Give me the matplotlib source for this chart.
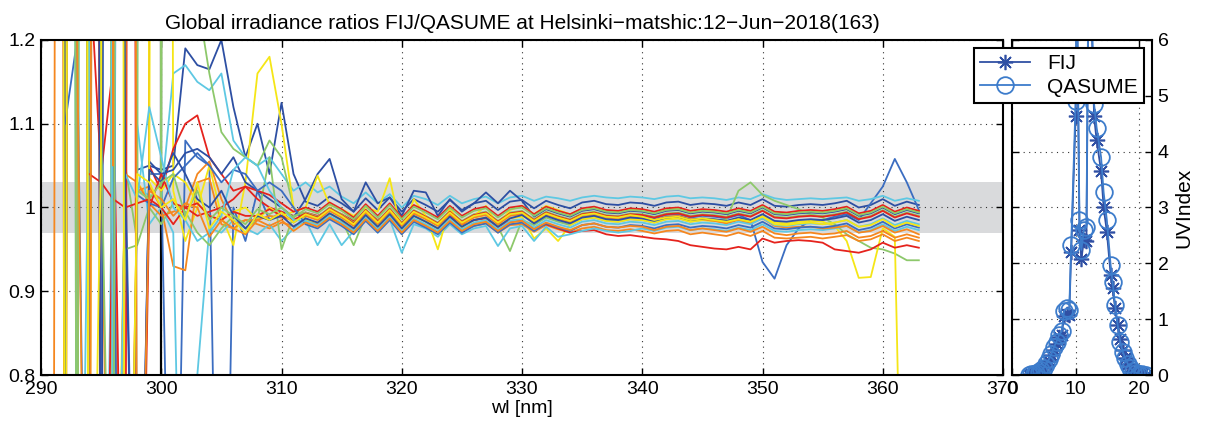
import numpy as np
import matplotlib
matplotlib.use('Agg')
import matplotlib.pyplot as plt

nan = np.nan
wl = np.arange(290, 364)   # nm, 1 nm steps 290..363

# FIJ/QASUME ratios x1000, one list per scan (290..363 nm)
ratio_db1 = [nan, nan, 150, 8500, 400, 7600, 200, 6000, 1045, 1050,
             1045, 1050, 1190, 1170, 1165, 1200, 1120, 1060, 1100, 1040,
             1125, 1040, 1007, 1002, 1013, 1005, 995, 1011, 997, 1012,
             995, 1010, 1003, 995, 1009, 997, 1005, 1008, 997, 1007,
             1009, 999, 1008, 1003, 999, 1006, 1008, 1004, 1003, 1006,
             1005, 1002, 1006, 1007, 1003, 1005, 1004, 1002, 1006, 1003,
             1010, 1002, 1001, 1003, 1004, 1003, 1005, 1008, 1000, 1003,
             1010, 1002, 1007, 1003]
ratio_bl1 = [nan, nan, nan, 300, 9000, 100, 8000, 1070, 300, 1040,
             1040, 300, 1080, 1060, 1050, 200, 1000, 960, 1020, 985,
             995, 982, 992, 987, 998, 990, 980, 996, 982, 997,
             980, 995, 988, 980, 994, 982, 990, 993, 982, 992,
             994, 984, 993, 988, 984, 991, 993, 989, 988, 991,
             990, 987, 991, 992, 988, 990, 989, 987, 991, 985,
             935, 915, 955, 975, 985, 985, 989, 992, 985, 1005,
             1025, 1058, 1030, 997]
ratio_cy1 = [nan, nan, 8000, 300, 7000, 100, 1140, 9000, 1020, 1015,
             1010, 1160, 1170, 1150, 1140, 1160, 1080, 1060, 1050, 1060,
             1040, 1020, 1030, 1018, 1025, 1013, 1005, 1018, 1005, 1016,
             1000, 1014, 1010, 1003, 1014, 1005, 1010, 1013, 1005, 1012,
             1014, 1008, 1013, 1011, 1008, 1012, 1014, 1012, 1011, 1013,
             1012, 1010, 1013, 1014, 1011, 1012, 1011, 1009, 1012, 1010,
             1016, 1011, 1009, 1010, 1011, 1010, 1011, 1012, 1008, 1010,
             1014, 1008, 1011, 1008]
ratio_gr1 = [nan, nan, nan, 9000, 300, 8000, 100, 1050, 960, 7000,
             1000, 8000, 1300, 1250, 1160, 1090, 1070, 1060, 1050, 1080,
             1060, 1000, 987, 980, 993, 985, 955, 990, 977, 992,
             975, 990, 983, 975, 989, 977, 985, 988, 977, 948,
             985, 979, 988, 983, 979, 986, 988, 984, 983, 986,
             985, 982, 986, 987, 983, 985, 984, 986, 1020, 1030,
             1015, 1008, 1003, 998, 992, 988, 980, 968, 960, 952,
             950, 945, 937, 937]
ratio_ye1 = [nan, nan, 8000, 6000, 200, 7000, 1120, 100, 1030, 1010,
             6000, 1020, 960, 1000, 1050, 990, 955, 1030, 1160, 1180,
             1100, 1000, 985, 982, 993, 985, 975, 991, 977, 992,
             975, 990, 983, 975, 989, 977, 985, 988, 977, 987,
             989, 963, 975, 960, 979, 986, 988, 984, 983, 986,
             985, 982, 986, 987, 983, 985, 984, 982, 986, 983,
             990, 982, 981, 983, 984, 983, 978, 960, 916, 917,
             975, 965, 300, 200]
ratio_or1 = [nan, 7000, 400, 8000, 100, 6000, 1065, 200, 1020, 1025,
             1000, 930, 925, 1030, 1035, 980, 975, 985, 980, 975,
             982, 978, 983, 980, 987, 982, 972, 986, 973, 986,
             971, 985, 978, 970, 983, 972, 978, 981, 970, 979,
             980, 971, 979, 974, 970, 975, 977, 973, 972, 974,
             972, 969, 972, 973, 968, 970, 968, 966, 970, 966,
             972, 964, 963, 964, 965, 963, 965, 967, 960, 962,
             968, 960, 964, 960]
ratio_rd1 = [nan, 8500, 100, 7000, 1300, 1040, 1170, 300, 8000, 1050,
             1020, 1070, 1100, 1110, 1060, 1040, 1020, 1025, 1010, 1000,
             995, 990, 994, 990, 997, 992, 984, 996, 985, 995,
             982, 993, 987, 980, 990, 980, 985, 987, 977, 984,
             985, 975, 980, 975, 970, 972, 973, 968, 966, 967,
             965, 963, 962, 960, 955, 953, 951, 950, 953, 950,
             963, 958, 960, 961, 960, 958, 950, 948, 946, 950,
             958, 952, 955, 952]
ratio_db2 = [nan, 9000, 700, 6500, 300, 7500, 100, 9000, 200, 1055,
             1040, 1045, 1065, 1070, 1060, 1040, 1060, 1030, 1020, 1010,
             1000, 988, 1010, 1040, 1058, 1010, 995, 1030, 1005, 1012,
             990, 1020, 1018, 990, 1010, 995, 1005, 1018, 1005, 1020,
             1008, 989, 998, 993, 989, 996, 998, 994, 993, 996,
             995, 992, 996, 997, 993, 995, 994, 992, 996, 993,
             1000, 992, 991, 993, 994, 993, 995, 998, 990, 993,
             1000, 992, 997, 993]
ratio_cy2 = [nan, nan, 7500, 8500, 600, 6500, 100, 7000, 1100, 980,
             1000, 970, 300, 800, 975, 970, 985, 975, 968, 980,
             960, 975, 985, 955, 980, 955, 972, 988, 970, 986,
             946, 980, 975, 965, 980, 968, 975, 978, 954, 975,
             978, 960, 977, 965, 968, 972, 975, 972, 970, 972,
             975, 972, 976, 977, 973, 975, 974, 972, 976, 973,
             980, 972, 971, 973, 974, 973, 975, 978, 970, 973,
             980, 972, 977, 973]
ratio_gr2 = [nan, nan, 9500, 600, 8000, 6000, 200, 950, 955, 1000,
             980, 1005, 995, 970, 955, 975, 990, 975, 985, 1060,
             950, 990, 994, 989, 1000, 992, 982, 998, 984, 999,
             982, 997, 990, 982, 996, 984, 992, 995, 984, 994,
             996, 986, 995, 990, 986, 993, 995, 991, 990, 993,
             992, 989, 993, 994, 990, 992, 991, 989, 993, 990,
             997, 989, 988, 990, 991, 990, 992, 995, 987, 990,
             997, 989, 994, 990]
ratio_ye2 = [nan, nan, 400, 9000, 100, 8000, 300, 1040, 8000, 1035,
             1020, 1040, 1030, 1005, 990, 985, 995, 1000, 985, 1000,
             990, 995, 1000, 1038, 1003, 998, 990, 1000, 995, 1035,
             968, 1010, 990, 950, 1000, 975, 990, 1002, 978, 997,
             1002, 992, 1002, 997, 992, 998, 1000, 996, 995, 998,
             997, 994, 998, 999, 995, 997, 996, 994, 998, 995,
             1002, 994, 993, 995, 996, 995, 997, 1000, 992, 995,
             1002, 994, 999, 995]
ratio_or2 = [nan, 7000, 8000, 500, 9000, 1062, 200, 1040, 1030, 1005,
             990, 995, 1000, 1040, 1055, 1010, 980, 985, 985, 990,
             988, 985, 990, 985, 996, 988, 978, 994, 980, 995,
             978, 993, 986, 978, 992, 980, 988, 991, 980, 990,
             992, 982, 991, 986, 982, 989, 991, 987, 986, 989,
             988, 985, 989, 990, 986, 986, 984, 981, 985, 981,
             987, 978, 976, 977, 977, 975, 976, 978, 970, 972,
             978, 970, 974, 968]
ratio_rd2 = [nan, nan, nan, 8000, 7000, 100, 1060, 7000, 200, 1000,
             1040, 1005, 1000, 990, 995, 1000, 1010, 1025, 1020, 1015,
             1005, 995, 1000, 995, 1006, 998, 988, 1004, 990, 1005,
             988, 1003, 996, 988, 1002, 990, 998, 1001, 990, 1000,
             1002, 992, 1001, 996, 992, 999, 1001, 997, 996, 999,
             998, 995, 999, 1000, 996, 998, 997, 995, 999, 996,
             1003, 995, 994, 996, 997, 996, 998, 1001, 993, 996,
             1003, 995, 1000, 996]
ratio_bl2 = [nan, nan, 1100, 1200, 200, 9000, 1020, 100, 1015, 1005,
             1000, 1035, 1050, 1065, 1050, 1030, 1045, 1040, 1020, 1030,
             1020, 1000, 980, 975, 986, 978, 968, 984, 970, 985,
             968, 983, 976, 968, 982, 970, 978, 981, 970, 980,
             982, 972, 981, 976, 972, 979, 981, 977, 976, 979,
             978, 975, 979, 980, 976, 978, 977, 975, 979, 976,
             983, 975, 974, 976, 977, 976, 978, 981, 973, 976,
             983, 975, 980, 976]
ratio_rd3 = [nan, nan, nan, nan, 1040, 1030, 1010, 1000, 1005, 1010,
             1000, 980, 1000, 1005, 990, 985, 995, 990, 990, 998,
             990, 985, 993, 988, 999, 991, 981, 997, 983, 998,
             981, 996, 989, 981, 995, 983, 991, 994, 983, 993,
             995, 985, 994, 989, 985, 992, 994, 990, 989, 992,
             991, 988, 992, 993, 989, 991, 990, 988, 992, 989,
             996, 988, 987, 989, 990, 989, 991, 994, 986, 989,
             996, 988, 993, 989]
ratio_cy3 = [nan, 1200, 8000, 100, 1150, 9000, 200, 1040, 1010, 1120,
             1060, 1000, 985, 960, 970, 990, 1045, 1060, 1050, 1020,
             1000, 985, 984, 979, 990, 982, 972, 988, 974, 989,
             972, 987, 980, 972, 986, 974, 982, 985, 974, 984,
             986, 976, 985, 980, 976, 983, 985, 981, 980, 983,
             982, 979, 983, 984, 980, 982, 981, 979, 983, 980,
             987, 979, 978, 980, 981, 980, 982, 985, 977, 980,
             987, 979, 984, 980]
ratio_ye3 = [nan, 9000, 100, 7000, 200, 1080, 8000, 100, 1040, 1030,
             1000, 1010, 985, 1030, 975, 995, 985, 970, 992, 985,
             994, 982, 992, 987, 998, 990, 980, 996, 982, 997,
             980, 995, 988, 980, 994, 982, 990, 993, 982, 992,
             994, 984, 993, 988, 984, 991, 993, 989, 988, 991,
             989, 985, 988, 989, 985, 987, 985, 983, 986, 983,
             989, 980, 979, 981, 982, 980, 982, 985, 977, 979,
             986, 977, 982, 978]
ratio_gr3 = [nan, nan, 7000, 200, 9000, 1100, 300, 8000, 1020, 1010,
             1030, 1040, 990, 1020, 985, 1000, 990, 980, 998, 992,
             1000, 988, 998, 993, 1004, 996, 986, 1002, 988, 1003,
             986, 1001, 994, 986, 1000, 988, 996, 999, 988, 998,
             1000, 990, 999, 994, 990, 997, 999, 995, 994, 997,
             996, 993, 997, 998, 994, 996, 995, 993, 997, 994,
             1001, 993, 992, 994, 995, 994, 996, 999, 991, 994,
             1001, 993, 998, 994]
ratio_or3 = [nan, 100, 8000, 1200, 100, 7500, 1050, 9000, 300, 1020,
             1010, 990, 1005, 1000, 965, 985, 975, 968, 985, 978,
             985, 972, 982, 977, 988, 980, 970, 986, 972, 987,
             970, 985, 978, 970, 984, 972, 980, 983, 972, 982,
             984, 974, 982, 977, 973, 979, 981, 977, 976, 978,
             977, 973, 977, 978, 973, 975, 973, 971, 975, 971,
             977, 969, 967, 969, 970, 968, 969, 972, 964, 966,
             972, 964, 968, 964]
ratio_db3 = [nan, nan, 100, 9000, 7000, 200, 8000, 1030, 300, 1045,
             1030, 1065, 1040, 1010, 1000, 1020, 990, 975, 990, 985,
             990, 977, 987, 982, 993, 985, 975, 991, 977, 992,
             975, 990, 983, 975, 989, 977, 985, 988, 977, 987,
             991, 981, 990, 985, 981, 988, 990, 986, 985, 988,
             987, 984, 988, 989, 985, 987, 986, 984, 988, 985,
             992, 984, 983, 985, 986, 985, 987, 990, 982, 985,
             992, 984, 989, 985]

# UV index vs hour
uv_hour = [2.6, 3.0, 3.4, 3.8, 4.2, 4.6, 5.0, 5.4, 5.8, 6.2,
           6.6, 7.0, 7.4, 7.8, 8.2, 8.6, 9.0, 9.3, 10.0, 10.2,
           10.6, 10.9, 11.3, 11.7, 12.0, 12.5, 12.9, 13.3, 14.0, 14.4,
           14.9, 15.5, 15.8, 16.2, 16.6, 17.0, 17.4, 17.8, 18.2, 18.6,
           19.0, 19.5, 20.0, 20.5, 21.0]
uv_fij = [0.0, 0.01, 0.02, 0.03, 0.05, 0.08, 0.12, 0.18, 0.25, 0.35,
          0.45, 0.55, 0.68, 0.72, 1.05, 1.1, 1.08, 2.2, 4.63, 6.9,
          2.6, 2.07, 2.42, 2.4, 6.8, 6.4, 4.63, 4.2, 3.65, 3.0,
          2.57, 1.8, 1.55, 1.2, 0.9, 0.65, 0.45, 0.3, 0.2, 0.12,
          0.07, 0.04, 0.02, 0.01, 0.0]
uv_qasume = [0.0, 0.01, 0.02, 0.03, 0.05, 0.09, 0.13, 0.2, 0.28, 0.38,
             0.5, 0.6, 0.72, 0.78, 1.15, 1.2, 1.17, 2.33, 4.9, 7.2,
             2.78, 2.24, 2.6, 2.65, 7.1, 6.7, 4.85, 4.43, 3.9, 3.27,
             2.78, 1.97, 1.67, 1.26, 0.9, 0.6, 0.42, 0.3, 0.2, 0.12,
             0.07, 0.04, 0.02, 0.01, 0.0]

db = '#2d4fa3'
bl = '#3b6dc1'
cy = '#5ec8e3'
gr = '#8dc86b'
ye = '#f5e616'
orng = '#f5871f'
rd = '#e5231d'

series = [(ratio_db1, db), (ratio_bl1, bl), (ratio_cy1, cy), (ratio_gr1, gr),
          (ratio_ye1, ye), (ratio_or1, orng), (ratio_rd1, rd), (ratio_db2, db),
          (ratio_cy2, cy), (ratio_gr2, gr), (ratio_ye2, ye), (ratio_or2, orng),
          (ratio_rd2, rd), (ratio_bl2, bl), (ratio_rd3, rd), (ratio_cy3, cy),
          (ratio_db3, db), (ratio_gr3, gr), (ratio_or3, orng), (ratio_ye3, ye)]

plt.rcParams['font.family'] = ['Liberation Sans', 'DejaVu Sans']
plt.rcParams['font.size'] = 14

fig = plt.figure(figsize=(12.13, 4.34), dpi=100)
ax = fig.add_axes([0.0338, 0.1359, 0.7931, 0.772])
ax2 = fig.add_axes([0.8343, 0.1359, 0.1154, 0.772])

gridstyle = dict(linestyle=(0, (1, 4)), color='#333333', linewidth=0.8)

# left: spectral ratios
ax.axhspan(0.97, 1.03, color='#d9dadc', lw=0, zorder=0)
ax.axvline(300, color='k', lw=1.6, zorder=1)
for vals, c in series:
    ax.plot(wl, np.array(vals) / 1000.0, color=c, lw=1.3)
ax.set_xlim(290, 370)
ax.set_ylim(0.8, 1.2)
ax.set_xticks(range(290, 371, 10))
ax.set_yticks([0.8, 0.9, 1.0, 1.1, 1.2])
ax.set_yticklabels(['0.8', '0.9', '1', '1.1', '1.2'])
ax.set_axisbelow(True)
ax.grid(True, **gridstyle)
ax.tick_params(direction='in', top=True, right=True, length=5, width=1, pad=4)
for s in ax.spines.values():
    s.set_linewidth(1.5)
ax.set_xlabel('wl [nm]', labelpad=2)
ax.set_title('Global irradiance ratios FIJ/QASUME at Helsinki\u2212matshic:12\u2212Jun\u22122018(163)',
             fontsize=15, pad=8)

# right: UV index
ax2.plot(uv_hour, uv_fij, marker=(8, 2, 0), color='#3050a4', ms=11, mew=1.2, lw=1.3, label='FIJ')
ax2.plot(uv_hour, uv_qasume, marker='o', mfc='none', color='#3d7ccb', ms=12, mew=1.3,
         lw=1.3, label='QASUME')
ax2.set_xlim(0, 22)
ax2.set_ylim(0, 6)
ax2.set_xticks([0, 10, 20])
ax2.set_yticks(range(0, 7))
ax2.yaxis.tick_right()
ax2.yaxis.set_label_position('right')
ax2.set_ylabel('UVIndex', labelpad=4, fontsize=15)
ax2.set_axisbelow(True)
ax2.grid(True, **gridstyle)
ax2.tick_params(direction='in', top=True, left=True, right=True, length=5, width=1, pad=4)
for s in ax2.spines.values():
    s.set_linewidth(1.5)

leg = ax2.legend(loc='upper right', bbox_to_anchor=(0.943, 0.889), bbox_transform=fig.transFigure,
                 frameon=True, fancybox=False, edgecolor='k', framealpha=1, borderpad=0.3,
                 handlelength=2.4, labelspacing=0.2, borderaxespad=0, fontsize=15)
leg.get_frame().set_linewidth(1.5)

fig.savefig('out.png', dpi=100)
